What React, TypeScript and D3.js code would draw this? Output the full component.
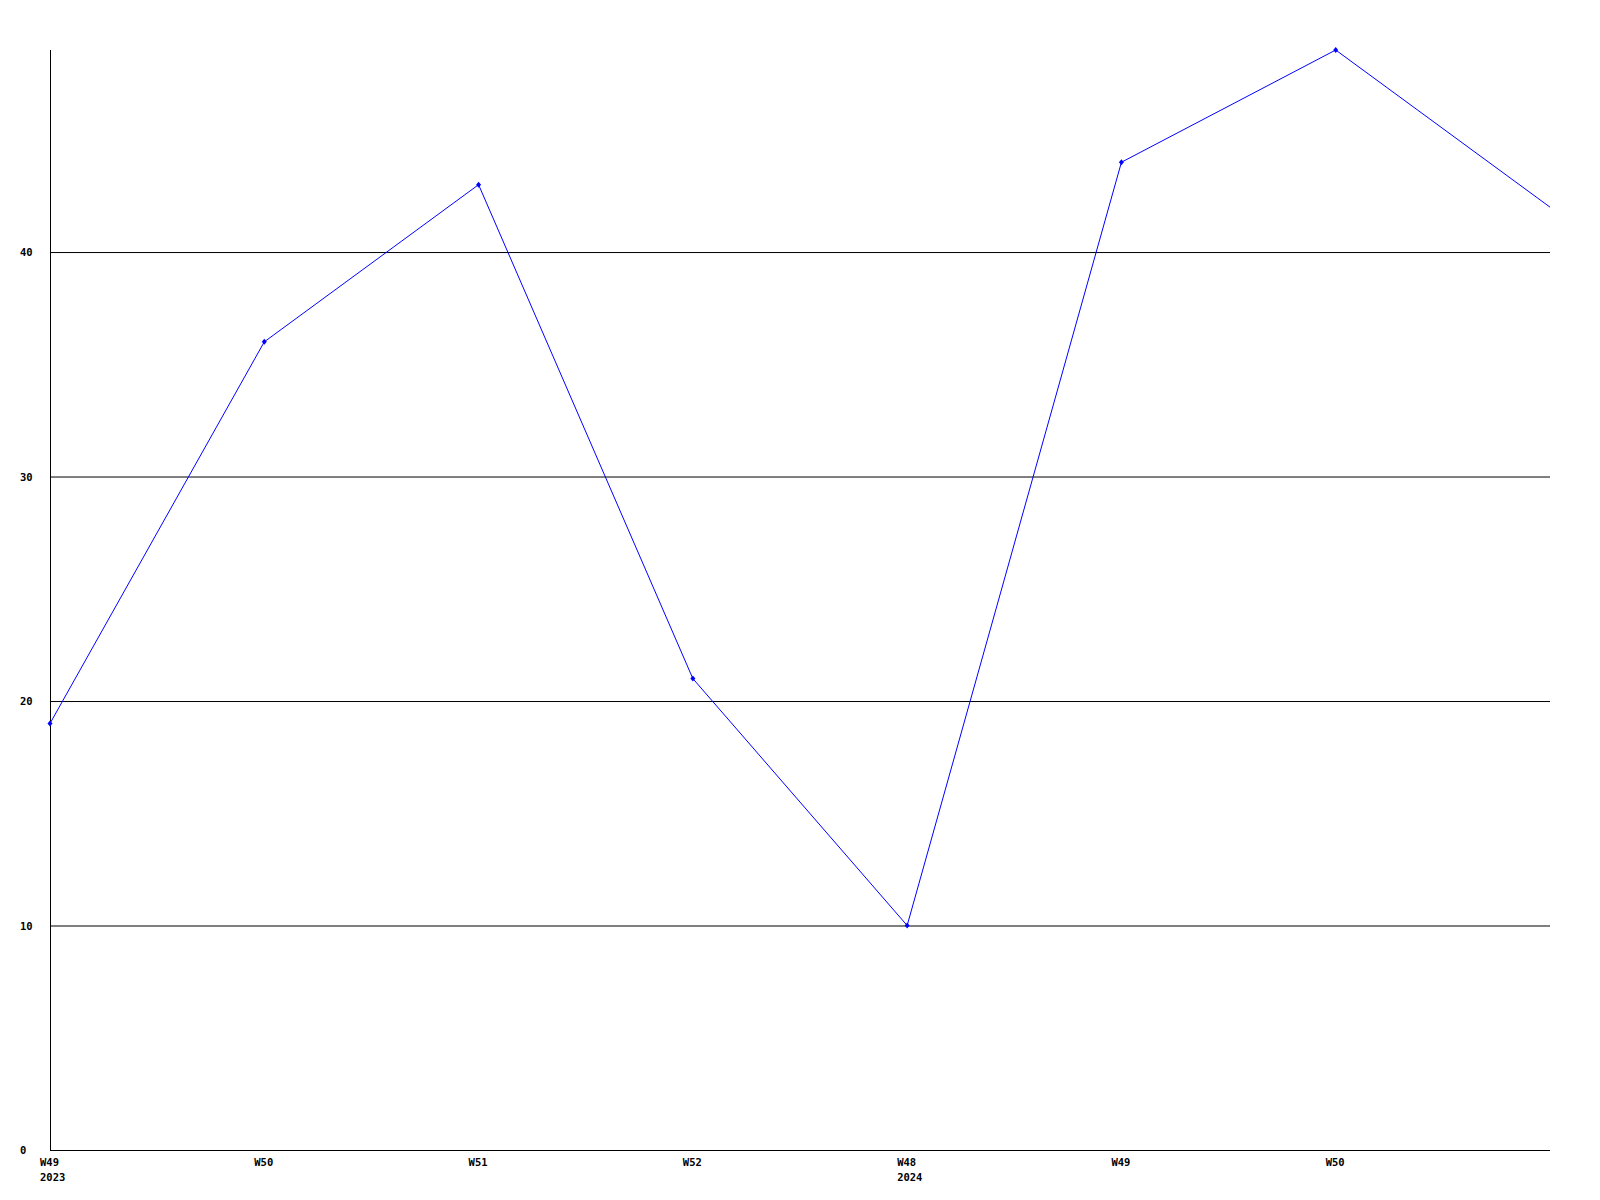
import React from "react";
import * as d3 from "d3";

const weeks = ["W49", "W50", "W51", "W52", "W48", "W49", "W50", ""];
const years = ["2023", "", "", "", "2024", "", "", ""];
const values = [19, 36, 43, 21, 10, 44, 49, 42];
const showMarker = [true, true, true, true, true, true, true, false];
const yTicks = [0, 10, 20, 30, 40];

export default function App() {
  const W = 1600, H = 1200;
  const left = 50, right = 1550, top = 50, bottom = 1150;
  const x = d3.scalePoint<number>().domain(d3.range(values.length)).range([left, right]);
  const y = d3.scaleLinear().domain([0, 49]).range([bottom, top]);
  const line = d3.line<number>().x((_, i) => x(i)!).y((d) => y(d));
  const font = "'DejaVu Sans Mono', monospace";
  return (
    <svg width={W} height={H} style={{ position: "absolute", left: 0, top: 0, background: "#fff" }}>
      {yTicks.map((t) => (
        <g key={t}>
          {t > 0 && <line x1={left} x2={right} y1={y(t) + 0.5} y2={y(t) + 0.5} stroke="#000" strokeWidth={1} />}
          <text x={20} y={y(t) + 4} fontFamily={font} fontWeight="bold" fontSize={10.5} fill="#000">{t}</text>
        </g>
      ))}
      <line x1={left + 0.5} x2={left + 0.5} y1={top} y2={bottom + 1} stroke="#000" strokeWidth={1} />
      <line x1={left} x2={right} y1={bottom + 0.5} y2={bottom + 0.5} stroke="#000" strokeWidth={1} />
      <path d={line(values)!} fill="none" stroke="#0000ff" strokeWidth={1} />
      {values.map((v, i) =>
        showMarker[i] ? (
          <path key={i} d={`M${x(i)},${y(v) - 3}L${x(i) + 2.5},${y(v)}L${x(i)},${y(v) + 3}L${x(i) - 2.5},${y(v)}Z`} fill="#0000ff" />
        ) : null
      )}
      {weeks.map((w, i) => (
        <g key={i}>
          {w && <text x={x(i)! - 10} y={1166} fontFamily={font} fontWeight="bold" fontSize={10.5} fill="#000">{w}</text>}
          {years[i] && <text x={x(i)! - 10} y={1181} fontFamily={font} fontWeight="bold" fontSize={10.5} fill="#000">{years[i]}</text>}
        </g>
      ))}
    </svg>
  );
}
